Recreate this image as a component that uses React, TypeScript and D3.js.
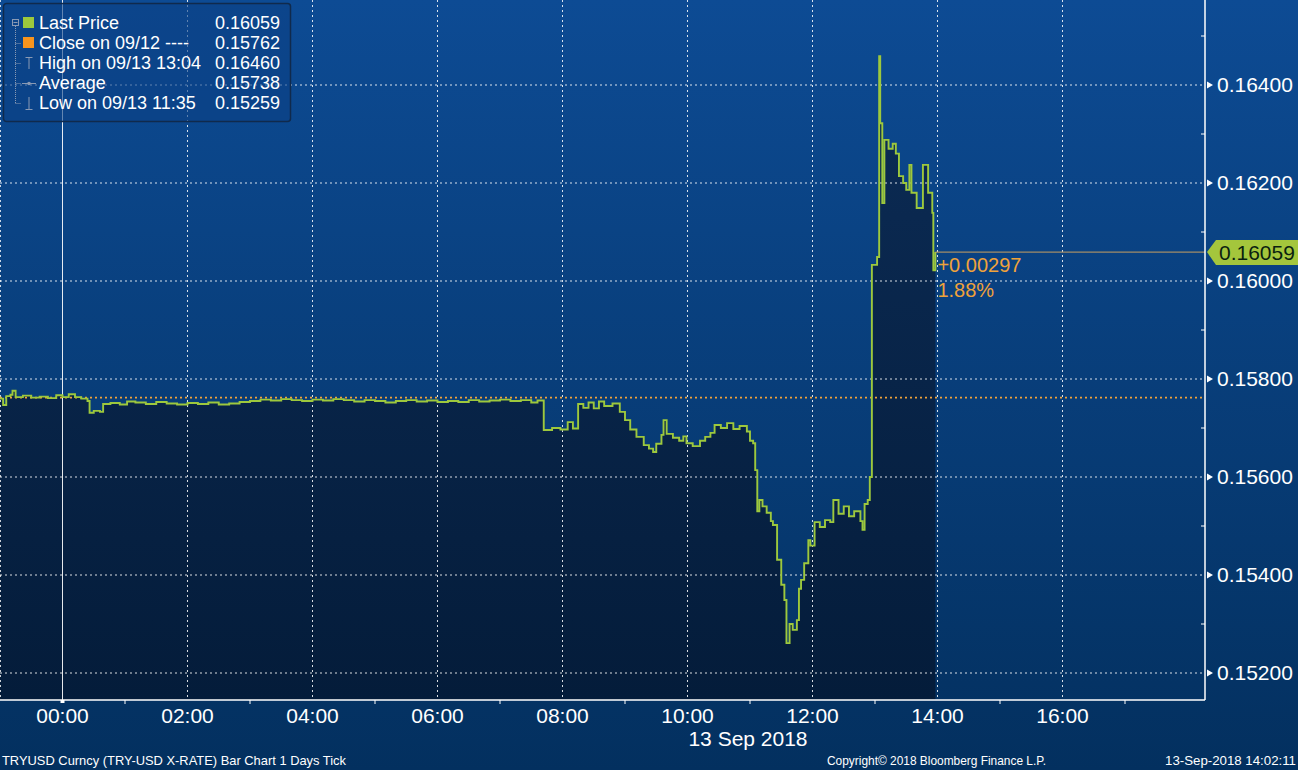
import { useEffect } from 'react'
import * as d3 from 'd3'

// minutes from 00:00 on 13 Sep (negative = 12 Sep) and last price
const tickMinutes = [
  -60, -57, -54, -50, -48, -45, -38, -30, -22, -14, -6, 0, 6, 12, 18, 24, 26, 30, 36, 39,
  46, 55, 62, 70, 80, 90, 100, 110, 120, 130, 140, 150, 160, 170, 180, 190, 200, 210, 220, 230,
  240, 250, 260, 270, 280, 290, 300, 310, 320, 330, 340, 350, 360, 370, 380, 390, 400, 410, 420, 430,
  440, 450, 456, 462, 470, 478, 485, 490, 495, 500, 505, 510, 515, 520, 528, 535, 540, 545, 551, 558,
  563, 567, 570, 575, 577, 580, 586, 592, 596, 599, 605, 612, 617, 622, 626, 632, 638, 644, 650, 657,
  660, 663, 665, 667, 669, 672, 676, 680, 682, 686, 690, 693, 695, 698, 701, 705, 707, 709, 712, 716,
  718, 722, 727, 732, 737, 740, 745, 750, 755, 760, 766, 768, 770, 773, 775, 777, 782, 784, 785, 787,
  789, 793, 797, 800, 803, 807, 810, 813, 815, 820, 826, 831, 835, 836, 838
]
const tickPrices = [
  0.15760, 0.15747, 0.15765, 0.15768, 0.15776, 0.15763, 0.15766, 0.15762, 0.15764, 0.15761, 0.15767, 0.15763, 0.15769, 0.15763, 0.15760, 0.15755, 0.15731, 0.15735, 0.15733, 0.15749,
  0.15751, 0.15748, 0.15754, 0.15752, 0.15749, 0.15753, 0.15750, 0.15748, 0.15751, 0.15749, 0.15752, 0.15748, 0.15750, 0.15753, 0.15755, 0.15758, 0.15756, 0.15759, 0.15757, 0.15755,
  0.15758, 0.15756, 0.15759, 0.15757, 0.15754, 0.15757, 0.15755, 0.15752, 0.15755, 0.15757, 0.15754, 0.15756, 0.15753, 0.15755, 0.15753, 0.15757, 0.15754, 0.15756, 0.15758, 0.15755,
  0.15757, 0.15752, 0.15756, 0.15696, 0.15700, 0.15697, 0.15712, 0.15699, 0.15749, 0.15741, 0.15752, 0.15740, 0.15754, 0.15745, 0.15750, 0.15733, 0.15716, 0.15697, 0.15682, 0.15665,
  0.15658, 0.15651, 0.15668, 0.15686, 0.15716, 0.15688, 0.15680, 0.15674, 0.15683, 0.15669, 0.15663, 0.15674, 0.15682, 0.15690, 0.15706, 0.15700, 0.15710, 0.15698, 0.15704, 0.15693,
  0.15674, 0.15669, 0.15614, 0.15530, 0.15553, 0.15540, 0.15527, 0.15510, 0.15502, 0.15431, 0.15380, 0.15349, 0.15261, 0.15300, 0.15288, 0.15308, 0.15372, 0.15390, 0.15424, 0.15471,
  0.15460, 0.15508, 0.15498, 0.15512, 0.15508, 0.15553, 0.15525, 0.15540, 0.15520, 0.15530, 0.15510, 0.15492, 0.15545, 0.15553, 0.15600, 0.16033, 0.16049, 0.16459, 0.16322, 0.16159,
  0.16288, 0.16270, 0.16280, 0.16260, 0.16214, 0.16200, 0.16186, 0.16237, 0.16180, 0.16149, 0.16237, 0.16180, 0.16139, 0.16022, 0.16059
]

const priorClose = 0.15762
const lastPrice = 0.16059
const changeText = ['+0.00297', '1.88%']

const yTickValues = [0.152, 0.154, 0.156, 0.158, 0.160, 0.162, 0.164]
const yMinorValues = [0.153, 0.155, 0.157, 0.159, 0.161, 0.163, 0.165]
const xTickHours = [0, 2, 4, 6, 8, 10, 12, 14, 16]
const xMinorHours = [1, 3, 5, 7, 9, 11, 13, 15, 17]
const dateLabel = '13 Sep 2018'

const legendLabels = ['Last Price', 'Close on 09/12 ----', 'High on 09/13 13:04', 'Average', 'Low on 09/13 11:35']
const legendValues = ['0.16059', '0.15762', '0.16460', '0.15738', '0.15259']

const footerLeft = 'TRYUSD Curncy (TRY-USD X-RATE) Bar Chart 1 Days  Tick'
const footerMid = 'Copyright\u00a9 2018 Bloomberg Finance L.P.'
const footerRight = '13-Sep-2018 14:02:11'

const W = 1298
const H = 770
const plotRight = 1205
const plotBottom = 700
const FONT = '"Liberation Sans", Arial, sans-serif'
const GREEN = '#9dc83d'
const ORANGE = '#f0a23a'

export default function App() {
  useEffect(() => {
    document.body.style.margin = '0'
  }, [])

  const x = d3.scaleLinear().domain([-60, 1096.8]).range([0, plotRight])
  const y = d3.scaleLinear().domain([0.151449, 0.165735]).range([plotBottom, 0])

  const pts = tickMinutes.map((m, i) => [m, tickPrices[i]] as [number, number])
  const area = d3.area<[number, number]>()
    .curve(d3.curveStepAfter)
    .x(d => x(d[0]))
    .y0(plotBottom)
    .y1(d => y(d[1]))
  const line = d3.line<[number, number]>()
    .curve(d3.curveStepAfter)
    .x(d => x(d[0]))
    .y(d => y(d[1]))

  const lastX = x(tickMinutes[tickMinutes.length - 1])
  const lastY = y(lastPrice)

  return (
    <svg width={W} height={H} style={{ position: 'absolute', left: 0, top: 0, display: 'block' }}>
      <defs>
        <linearGradient id="bg" x1="0" y1="0" x2="0" y2="1">
          <stop offset="0" stopColor="#0d4b94" />
          <stop offset="1" stopColor="#03305f" />
        </linearGradient>
        <linearGradient id="fill" x1="0" y1="0" x2="0" y2="1">
          <stop offset="0" stopColor="#0c2c56" />
          <stop offset="1" stopColor="#041c3a" />
        </linearGradient>
      </defs>
      <rect x={0} y={0} width={W} height={H} fill="url(#bg)" />

      <path d={area(pts) || ''} fill="url(#fill)" />

      {/* grid */}
      {yTickValues.map(v => (
        <line key={'gy' + v} x1={0} x2={plotRight} y1={y(v)} y2={y(v)}
          stroke="#ffffff" strokeWidth={1} strokeDasharray="2,3" opacity={0.85} />
      ))}
      {xTickHours.map(h => (
        <line key={'gx' + h} x1={x(h * 60)} x2={x(h * 60)} y1={0} y2={plotBottom}
          stroke="#ffffff" strokeWidth={1}
          strokeDasharray={h === 0 ? undefined : '2,3'} opacity={h === 0 ? 0.9 : 0.85} />
      ))}
      <line x1={0.5} x2={0.5} y1={0} y2={plotBottom} stroke="#ffffff" strokeDasharray="2,3" opacity={0.8} />

      {/* prior close */}
      <line x1={0} x2={plotRight} y1={y(priorClose)} y2={y(priorClose)}
        stroke={ORANGE} strokeWidth={1.6} strokeDasharray="2,3" />

      <path d={line(pts) || ''} fill="none" stroke={GREEN} strokeWidth={1.9} />

      {/* last price marker */}
      <line x1={lastX} x2={plotRight} y1={lastY} y2={lastY} stroke="#c9a060" strokeWidth={1} />
      <text x={lastX + 2} y={lastY + 20} fill={ORANGE} fontFamily={FONT} fontSize={20}>{changeText[0]}</text>
      <text x={lastX + 2} y={lastY + 45} fill={ORANGE} fontFamily={FONT} fontSize={20}>{changeText[1]}</text>

      {/* axes */}
      <line x1={plotRight} x2={plotRight} y1={0} y2={plotBottom} stroke="#ffffff" strokeWidth={1.5} />
      <line x1={0} x2={plotRight} y1={plotBottom} y2={plotBottom} stroke="#ffffff" strokeWidth={1.5} />
      {yMinorValues.map(v => (
        <line key={'my' + v} x1={plotRight - 4} x2={plotRight} y1={y(v)} y2={y(v)} stroke="#ffffff" />
      ))}
      {yTickValues.map(v => (
        <g key={'ty' + v}>
          <path d={`M${plotRight + 2},${y(v) - 3.5}L${plotRight + 8},${y(v)}L${plotRight + 2},${y(v) + 3.5}Z`} fill="#ffffff" />
          <text x={1217} y={y(v) + 7} fill="#ffffff" fontFamily={FONT} fontSize={21}>{d3.format('.5f')(v)}</text>
        </g>
      ))}
      {xMinorHours.map(h => (
        <line key={'mx' + h} x1={x(h * 60)} x2={x(h * 60)} y1={plotBottom} y2={plotBottom + 4} stroke="#ffffff" />
      ))}
      <rect x={x(0) - 2} y={plotBottom} width={4} height={3} fill="#ffffff" />
      {xTickHours.map(h => (
        <text key={'tx' + h} x={x(h * 60)} y={723} textAnchor="middle" fill="#ffffff"
          fontFamily={FONT} fontSize={21}>{String(h).padStart(2, '0') + ':00'}</text>
      ))}
      <text x={748} y={746} textAnchor="middle" fill="#ffffff" fontFamily={FONT} fontSize={21}>{dateLabel}</text>

      {/* last price tag */}
      <path d={`M${plotRight + 2},${lastY}L${1216},${lastY - 12}L${W},${lastY - 12}L${W},${lastY + 13}L${1216},${lastY + 13}Z`}
        fill="#a4c63c" />
      <text x={1219} y={lastY + 8} fill="#0b1f10" fontFamily={FONT} fontSize={21}>{lastPrice.toFixed(5)}</text>

      {/* legend */}
      <g>
        <rect x={3.5} y={3.5} width={287} height={118} rx={3} fill="#0b4186" fillOpacity={0.6}
          stroke="#102a4c" strokeWidth={1.5} />
        <rect x={12.5} y={19.5} width={6} height={6} fill="none" stroke="#8a9ab4" strokeWidth={1} />
        <line x1={13.5} x2={17.5} y1={22.5} y2={22.5} stroke="#8a9ab4" />
        <line x1={15.5} x2={15.5} y1={26} y2={104} stroke="#8a9ab4" strokeDasharray="1,1" />
        {legendLabels.map((l, i) => i > 0 && (
          <line key={'lt' + i} x1={15.5} x2={21} y1={23.5 + i * 20} y2={23.5 + i * 20} stroke="#8a9ab4" strokeDasharray="1,1" />
        ))}
        <rect x={23} y={17} width={11} height={11} fill={GREEN} />
        <rect x={23} y={37} width={11} height={11} fill="#f7941d" />
        <path d="M25.5,57.5H32.5M29,57.5V69" stroke="#8a9ab4" strokeWidth={1} fill="none" />
        <path d="M22,83.5H36" stroke="#8a9ab4" strokeWidth={1} />
        <circle cx={29} cy={83.5} r={1.8} fill="#8a9ab4" />
        <path d="M29,97V109.5M25.5,109.5H32.5" stroke="#8a9ab4" strokeWidth={1} fill="none" />
        {legendLabels.map((l, i) => (
          <g key={'lg' + i}>
            <text x={39} y={29 + i * 20} fill="#ffffff" fontFamily={FONT} fontSize={18}>{l}</text>
            <text x={280} y={29 + i * 20} textAnchor="end" fill="#ffffff" fontFamily={FONT} fontSize={18}>{legendValues[i]}</text>
          </g>
        ))}
      </g>

      {/* footer */}
      <text x={2} y={765} fill="#ffffff" fontFamily={FONT} fontSize={13} textLength={344} lengthAdjust="spacingAndGlyphs">{footerLeft}</text>
      <text x={827} y={765} fill="#ffffff" fontFamily={FONT} fontSize={13} textLength={219} lengthAdjust="spacingAndGlyphs">{footerMid}</text>
      <text x={1165} y={765} fill="#ffffff" fontFamily={FONT} fontSize={13} textLength={131} lengthAdjust="spacingAndGlyphs">{footerRight}</text>
    </svg>
  )
}
